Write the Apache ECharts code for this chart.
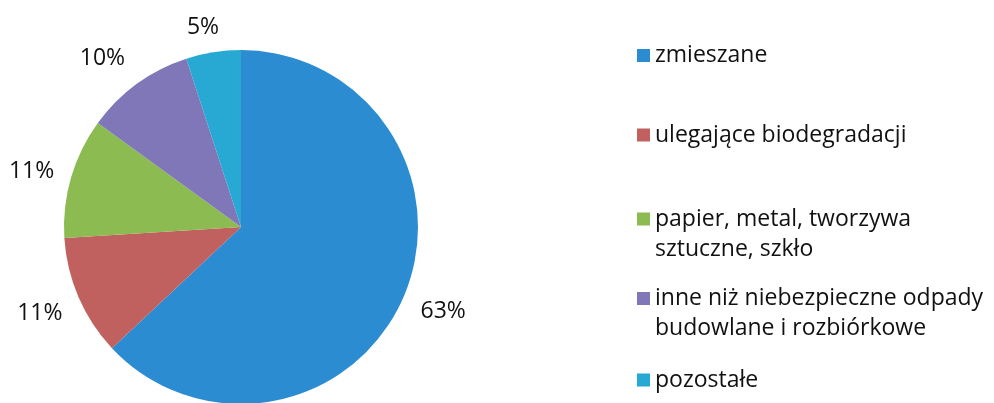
<!DOCTYPE html>
<html>
<head>
<meta charset="utf-8">
<script src="https://cdn.jsdelivr.net/npm/echarts@6/dist/echarts.min.js"></script>
<style>
  html, body { margin: 0; padding: 0; background: #fff; }
  #chart { width: 994px; height: 403px; }
</style>
</head>
<body>
<div id="chart"></div>
<script>
// waste categories and their share (%)
const categories = [
  'zmieszane',
  'ulegające biodegradacji',
  'papier, metal, tworzywa\nsztuczne, szkło',
  'inne niż niebezpieczne odpady\nbudowlane i rozbiórkowe',
  'pozostałe'
]
const shares = [63, 11, 11, 10, 5]
const colors = ['#2b8cd2', '#c0605f', '#8cbb52', '#7f77b8', '#28a9d4']

// centre y of each legend row's first line, and small label nudges (px)
const legendRows = [55.5, 135, 219, 298.5, 380]
const labelNudge = [[3, -2], [-2, 0], [-1, 5], [-11, 7], [-4, 15]]
const lineH = 30
const font = '"Open Sans", sans-serif'

const chart = echarts.init(document.getElementById('chart'))

const legends = categories.map((name, i) => {
  const multi = name.indexOf('\n') >= 0
  const boxH = multi ? lineH * 3 : lineH
  return {
    orient: 'vertical',
    left: 637,
    top: legendRows[i] - boxH / 2,
    padding: 0,
    data: [name],
    icon: 'rect',
    itemWidth: 13,
    itemHeight: 13,
    selectedMode: false,
    // a blank first line keeps the icon level with the first text line
    formatter: (n) => (multi ? '\n' + n : n),
    textStyle: {
      fontFamily: font,
      fontSize: 23,
      color: '#111',
      lineHeight: lineH
    }
  }
})

chart.setOption({
  animation: false,
  color: colors,
  legend: legends,
  series: [{
    type: 'pie',
    center: [241, 227],
    radius: 177,
    startAngle: 90,
    clockwise: true,
    avoidLabelOverlap: false,
    label: {
      show: true,
      position: 'outside',
      formatter: '{d}%',
      fontFamily: font,
      fontSize: 23,
      color: '#111',
      distanceToLabelLine: 0
    },
    labelLine: { show: false, length: 40, length2: 0 },
    labelLayout: (p) => ({
      align: 'center',
      dx: labelNudge[p.dataIndex][0],
      dy: labelNudge[p.dataIndex][1]
    }),
    emphasis: { disabled: true },
    data: categories.map((name, i) => ({ name, value: shares[i] }))
  }]
})

window.addEventListener('resize', () => chart.resize())
</script>
</body>
</html>
